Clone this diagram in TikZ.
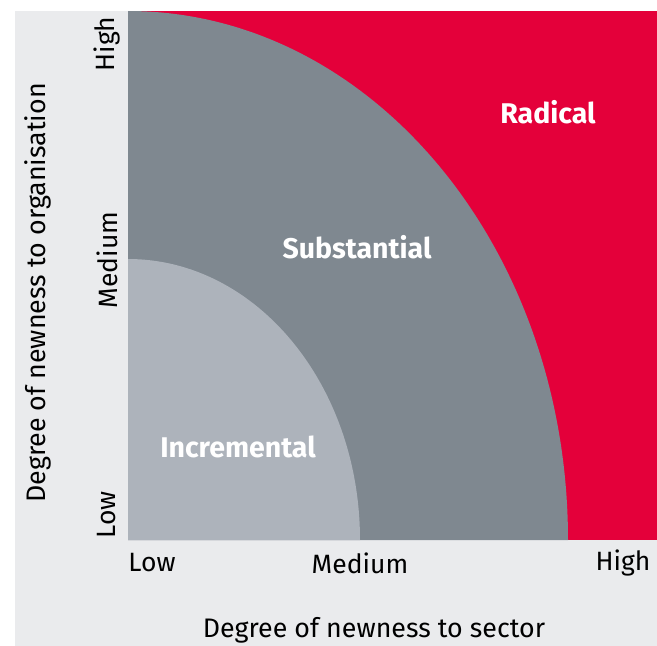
\documentclass[tikz,border=0pt]{standalone}
\usepackage{fontspec}
\setmainfont{Fira Sans}
\definecolor{radicalred}{HTML}{E4003A}
\definecolor{substgray}{HTML}{7F8890}
\definecolor{incrgray}{HTML}{ADB3BB}
\definecolor{panelgray}{HTML}{EAEBED}

\begin{document}
\begin{tikzpicture}[
        %Environment Config (1 unit = 1 px, y going down)
        x=1pt, y=-1pt,
        TickLabel/.style={%Style for Low / Medium / High
            font=\fontsize{26.5}{30}\selectfont,
            inner sep=0pt
        },
        AxisTitle/.style={%Style for the axis titles
            font=\fontsize{26.8}{30}\selectfont,
            inner sep=0pt
        },
        ZoneLabel/.style={%Style for the zone names
            font=\fontsize{28.5}{32}\selectfont\bfseries,
            text=white,
            inner sep=0pt
        }
    ]
    \useasboundingbox (0,0) rectangle (657,646);
    \fill[white] (0,0) rectangle (657,646);

    % panel and zones
    \fill[panelgray] (15,11) rectangle (657,646);
    \fill[radicalred] (128,11) rectangle (657,540);
    \fill[substgray] (128,540) -- (568,540)
        arc[start angle=0, end angle=-90, x radius=440, y radius=529] -- cycle;
    \fill[incrgray] (128,540) -- (360,540)
        arc[start angle=0, end angle=-90, x radius=232, y radius=281] -- cycle;

    % zone names
    \node[ZoneLabel] (radical) at (548,112) {Radical};
    \node[ZoneLabel] (substantial) at (357,247) {Substantial};
    \node[ZoneLabel] (incremental) at (238,447) {Incremental};

    % vertical axis
    \node[TickLabel, rotate=90] (yhigh) at (107,44) {High};
    \node[TickLabel, rotate=90] (ymedium) at (107,260) {Medium};
    \node[TickLabel, rotate=90] (ylow) at (107,515) {Low};
    \node[AxisTitle, rotate=90] (ytitle) at (38,293) {Degree of newness to organisation};

    % horizontal axis
    \node[TickLabel] (xlow) at (152,563) {Low};
    \node[TickLabel] (xmedium) at (360,563) {Medium};
    \node[TickLabel] (xhigh) at (623,563) {High};
    \node[AxisTitle] (xtitle) at (374,630) {Degree of newness to sector};
\end{tikzpicture}
\end{document}
